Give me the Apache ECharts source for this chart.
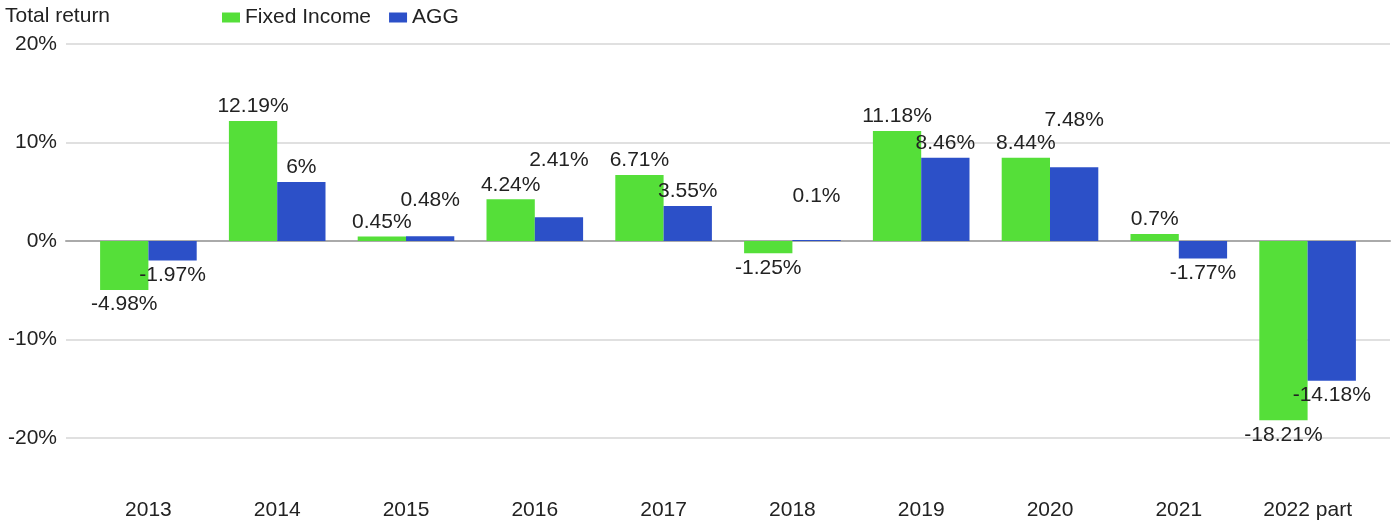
<!DOCTYPE html>
<html>
<head>
<meta charset="utf-8">
<script src="https://cdn.jsdelivr.net/npm/echarts@6/dist/echarts.min.js"></script>
<style>
    html, body { margin: 0; padding: 0; background: #fff; }
    #chart { width: 1392px; height: 523px; }
</style>
</head>
<body>
<div id="chart"></div>
<script>
    var years = ['2013', '2014', '2015', '2016', '2017', '2018', '2019', '2020', '2021', '2022 part'];
    var fixedIncome = [-4.98, 12.19, 0.45, 4.24, 6.71, -1.25, 11.18, 8.44, 0.7, -18.21];
    var agg = [-1.97, 6, 0.48, 2.41, 3.55, 0.1, 8.46, 7.48, -1.77, -14.18];
    var yTicks = [-20, -10, 0, 10, 20];

    // labels that get pushed up so they don't collide with the neighbour
    var aggLabelLift = { '2015': -22, '2016': -43, '2018': -29, '2020': -33 };

    var font = 'Liberation Sans, Arial, sans-serif';
    var fs = 21;

    var pct = function (v) { return v + '%'; };

    var labelFor = function (v) {
        return {
            show: true,
            position: v < 0 ? 'bottom' : 'top',
            distance: 4,
            color: '#222',
            fontSize: fs,
            fontFamily: font,
            formatter: function (p) { return pct(p.value); }
        };
    };

    var fiData = fixedIncome.map(function (v) {
        return { value: v, label: labelFor(v) };
    });
    var aggData = agg.map(function (v, i) {
        var l = labelFor(v);
        l.offset = [0, aggLabelLift[years[i]] || 0];
        return { value: v, label: l };
    });

    var chart = echarts.init(document.getElementById('chart'));
    chart.setOption({
        backgroundColor: '#fff',
        animation: false,
        title: {
            text: 'Total return',
            left: 5,
            top: 6,
            padding: 0,
            textStyle: { color: '#222', fontSize: fs, fontWeight: 'normal', fontFamily: font }
        },
        legend: {
            left: 217,
            top: 2,
            itemWidth: 18,
            itemHeight: 10,
            itemGap: 18,
            icon: 'rect',
            textStyle: { color: '#222', fontSize: fs, fontFamily: font },
            data: ['Fixed Income', 'AGG']
        },
        grid: [
            { left: 66, right: 2, top: 44, bottom: 85 },   // grid lines + y labels
            { left: 84, right: 20, top: 44, bottom: 85 }   // bars
        ],
        xAxis: [
            {
                gridIndex: 0,
                type: 'category',
                data: [''],
                axisLine: { show: true, onZero: true, lineStyle: { color: '#aaa', width: 2 } },
                axisTick: { show: false },
                axisLabel: { show: false }
            },
            {
                gridIndex: 1,
                type: 'category',
                data: years,
                axisLine: { show: false },
                axisTick: { show: false },
                axisLabel: {
                    margin: 62,
                    color: '#222',
                    fontSize: fs,
                    fontFamily: font
                }
            }
        ],
        yAxis: [
            {
                gridIndex: 0,
                type: 'value',
                min: yTicks[0],
                max: yTicks[yTicks.length - 1],
                interval: 10,
                axisLine: { show: false },
                axisTick: { show: false },
                axisLabel: {
                    margin: 9,
                    color: '#222',
                    fontSize: fs,
                    fontFamily: font,
                    formatter: pct
                },
                splitLine: { lineStyle: { color: '#e0e0e0', width: 2 } }
            },
            {
                gridIndex: 1,
                type: 'value',
                min: yTicks[0],
                max: yTicks[yTicks.length - 1],
                interval: 10,
                show: false,
                splitLine: { show: false }
            }
        ],
        series: [
            {
                name: 'Fixed Income',
                type: 'bar',
                xAxisIndex: 1,
                yAxisIndex: 1,
                barGap: '0%',
                barCategoryGap: '25%',
                itemStyle: { color: '#55df39' },
                data: fiData
            },
            {
                name: 'AGG',
                type: 'bar',
                xAxisIndex: 1,
                yAxisIndex: 1,
                barGap: '0%',
                barCategoryGap: '25%',
                itemStyle: { color: '#2c50c8' },
                data: aggData
            }
        ]
    });
</script>
</body>
</html>
